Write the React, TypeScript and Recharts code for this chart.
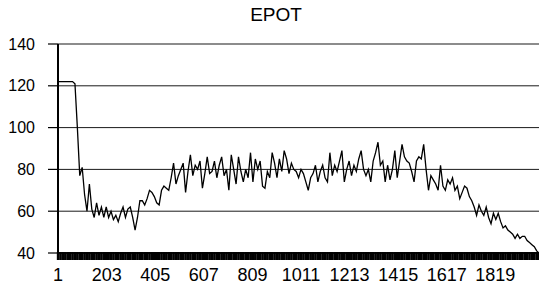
import React from 'react';
import { LineChart, Line, XAxis, YAxis, CartesianGrid } from 'recharts';

const title = 'EPOT';
const firstStep = 1;
const stepSize = 10;
const lastStep = 2000;
const lastValue = 40;

// EPOT sampled every 10 steps (1, 11, 21, ...)
const epot = [
  122, 122, 122, 122, 122, 122, 122, 121, 100, 77,
  81, 68, 60, 73, 61, 57, 64, 58, 62, 57,
  62, 57, 60, 56, 58, 55, 59, 62, 57, 61,
  62, 57, 51, 57, 65, 65, 63, 66, 70, 69,
  67, 64, 63, 70, 72, 71, 70, 76, 83, 73,
  77, 80, 83, 69, 79, 87, 77, 82, 80, 84,
  71, 78, 86, 78, 79, 84, 76, 82, 86, 77,
  80, 70, 87, 80, 73, 86, 79, 74, 80, 76,
  88, 74, 85, 80, 84, 72, 71, 79, 76, 88,
  83, 76, 85, 79, 89, 85, 78, 83, 80, 79,
  76, 80, 78, 74, 70, 76, 78, 82, 74, 79,
  82, 76, 74, 88, 77, 82, 79, 84, 89, 74,
  80, 84, 77, 82, 79, 85, 89, 80, 77, 80,
  74, 84, 88, 93, 82, 84, 74, 82, 75, 80,
  89, 76, 84, 92, 86, 84, 83, 79, 74, 84,
  86, 85, 92, 80, 70, 77, 75, 73, 70, 82,
  72, 70, 75, 73, 76, 70, 72, 66, 69, 72,
  71, 67, 65, 62, 58, 63, 60, 58, 62, 57,
  54, 59, 56, 59, 55, 52, 53, 51, 50, 49,
  47, 49, 47, 48, 48, 46, 45, 44, 43, 41,
];

const xLabels = [1, 203, 405, 607, 809, 1011, 1213, 1415, 1617, 1819];
const yTicks = [40, 60, 80, 100, 120, 140];

const data = [
  ...epot.map((v, i) => ({ step: firstStep + i * stepSize, value: v })),
  { step: lastStep, value: lastValue },
];

const allTicks = Array.from(new Set([...data.map((d) => d.step), ...xLabels])).sort((a, b) => a - b);

const font = '"Liberation Sans", Arial, sans-serif';

function StepTick(props: any) {
  const { x, y, payload } = props;
  const labelled = xLabels.includes(payload.value);
  return (
    <g>
      <line x1={x} y1={y - 1} x2={x} y2={y + 7} stroke="#000" strokeWidth={2.6} />
      {labelled && (
        <text x={x} y={y + 28} textAnchor="middle" fontSize={18} fontFamily={font} fill="#000">
          {payload.value}
        </text>
      )}
    </g>
  );
}

export default function App() {
  return (
    <div style={{ position: 'absolute', left: 0, top: 0, width: 539, height: 291, background: '#fff', fontFamily: font }}>
      <div style={{ position: 'absolute', left: 0, width: 552, top: 4, textAlign: 'center', fontSize: 19, color: '#000' }}>
        {title}
      </div>
      <LineChart width={539} height={291} data={data} margin={{ top: 44, right: 0, left: 0, bottom: 0 }}>
        <CartesianGrid vertical={false} stroke="#000" strokeWidth={1} strokeOpacity={0.9} />
        <XAxis
          dataKey="step"
          type="number"
          domain={[0.5, 2000.5]}
          ticks={allTicks}
          interval={0}
          tick={<StepTick />}
          tickLine={false}
          tickSize={0}
          tickMargin={0}
          height={38}
          axisLine={{ stroke: '#000', strokeWidth: 1.5 }}
        />
        <YAxis
          domain={[40, 140]}
          ticks={yTicks}
          interval={0}
          width={58}
          tickSize={10}
          tickMargin={13}
          tickLine={{ stroke: '#000', strokeWidth: 1.2 }}
          axisLine={{ stroke: '#000', strokeWidth: 2 }}
          tick={{ fontSize: 16, fill: '#000', fontFamily: font }}
        />
        <Line
          type="linear"
          dataKey="value"
          stroke="#000"
          strokeWidth={1.3}
          dot={false}
          isAnimationActive={false}
        />
      </LineChart>
    </div>
  );
}
